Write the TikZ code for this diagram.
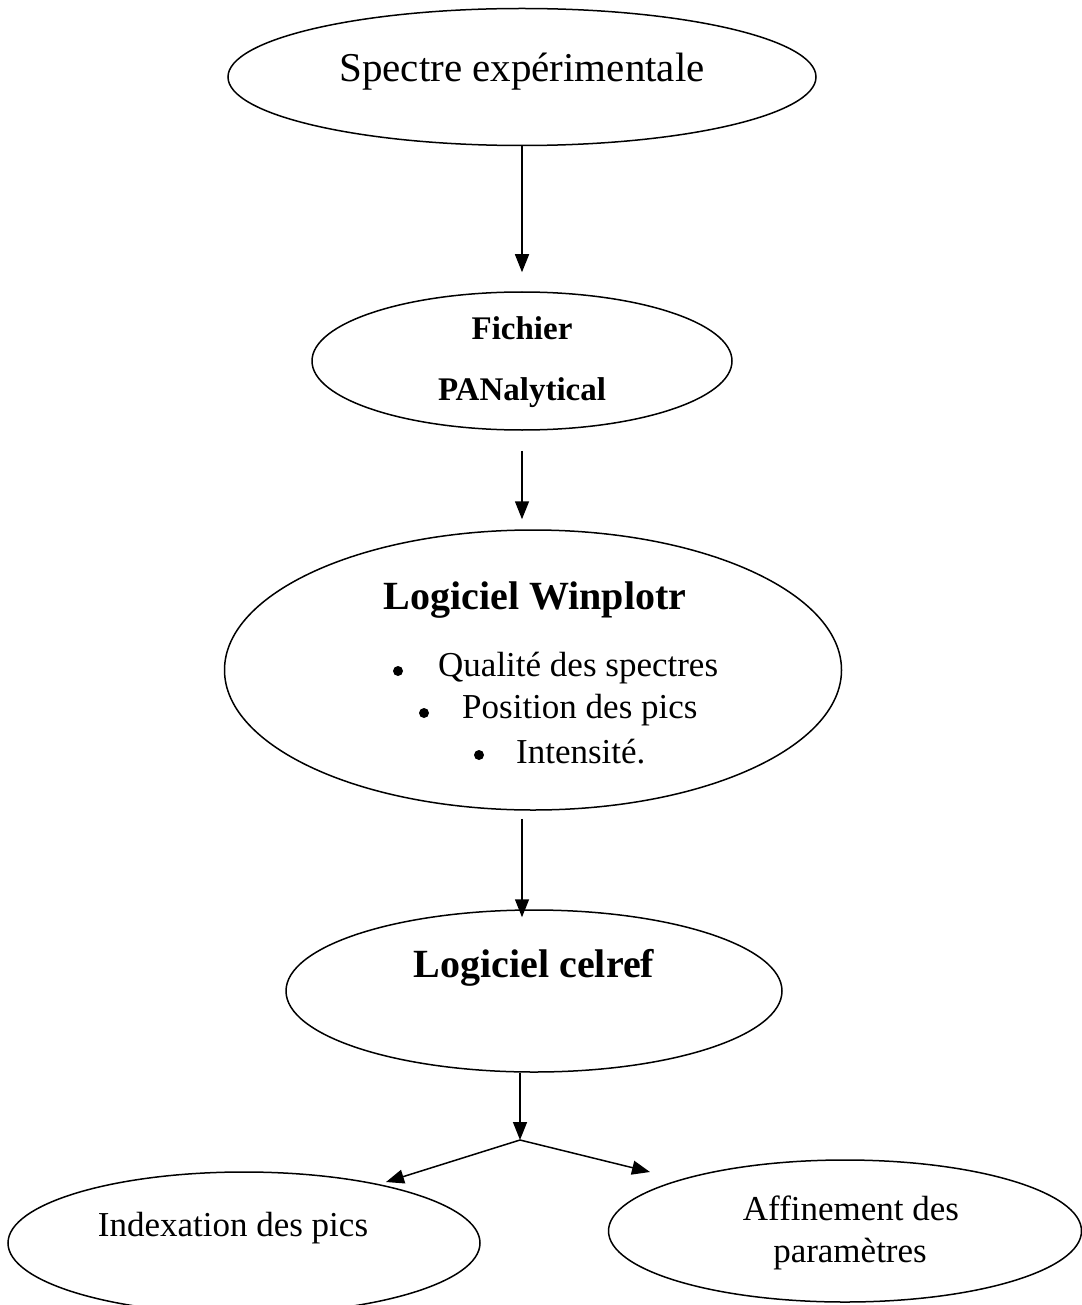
\documentclass[tikz,border=0pt]{standalone}
\usepackage{fontspec}
\setmainfont{Liberation Serif}
\usetikzlibrary{shapes.geometric,arrows.meta,calc}
\begin{document}
\begin{tikzpicture}[x=1pt,y=-1pt,
  ell/.style={draw,ellipse,line width=1.5pt,inner sep=0pt},
  lab/.style={inner sep=0pt,anchor=center},
  arr/.style={line width=1.5pt,-{Triangle[length=18pt,width=14pt]}},
  bul/.style={inner sep=0pt,circle,fill,minimum size=10pt}]
\useasboundingbox (0,0) rectangle (1081,1305);
% ellipses
\node[ell,minimum width=588pt,minimum height=137pt] (e1) at (522,77) {};
\node[ell,minimum width=420pt,minimum height=138pt] (e2) at (522,361) {};
\node[ell,minimum width=617pt,minimum height=280pt] (e3) at (533,670) {};
\node[ell,minimum width=496pt,minimum height=162pt] (e4) at (534,991) {};
\node[ell,minimum width=472pt,minimum height=142pt] (e5) at (244,1243) {};
\node[ell,minimum width=473pt,minimum height=142pt] (e6) at (845,1231) {};
% texts
\node[lab,font=\fontsize{41}{46}\selectfont] (t1) at (522,72) {Spectre expérimentale};
\node[lab,font=\bfseries\fontsize{33}{38}\selectfont] (t2a) at (522,328) {Fichier};
\node[lab,font=\bfseries\fontsize{33}{38}\selectfont] (t2b) at (522,393) {PANalytical};
\node[lab,font=\bfseries\fontsize{40}{46}\selectfont] (t3) at (535,600) {Logiciel Winplotr};
\node[lab,font=\fontsize{35}{40}\selectfont,anchor=west] (q1) at (438,668) {Qualité des spectres};
\node[lab,font=\fontsize{35}{40}\selectfont,anchor=west] (q2) at (462,710) {Position des pics};
\node[lab,font=\fontsize{35}{40}\selectfont,anchor=west] (q3) at (516,752) {Intensité.};
\node[bul] (b1) at (398,671) {};
\node[bul] (b2) at (424,713) {};
\node[bul] (b3) at (479,755) {};
\node[lab,font=\bfseries\fontsize{40}{46}\selectfont] (t4) at (534,968) {Logiciel celref};
\node[lab,font=\fontsize{35}{40}\selectfont] (t5) at (233,1228) {Indexation des pics};
\node[lab,font=\fontsize{35}{40}\selectfont] (t6a) at (851,1208) {Affinement des};
\node[lab,font=\fontsize{35}{40}\selectfont] (t6b) at (850,1254) {paramètres};
% connectors
\coordinate (j) at (520,1140);
\coordinate (l) at (386,1182);
\coordinate (r) at (650,1172);
\draw[arr,shorten >=19pt] (e1.south) -- (e2.north);
\draw[arr,shorten <=20pt,shorten >=10pt] (e2.south) -- (e2.south |- e3.north);
\draw[arr,shorten <=8pt,shorten >=-8pt] (e3.south -| e2.south) -- (e2.south |- e4.north);
\draw[arr] (e4.south -| j) -- (j);
\draw[arr] (j) -- (l);
\draw[arr] (j) -- (r);
\end{tikzpicture}
\end{document}
